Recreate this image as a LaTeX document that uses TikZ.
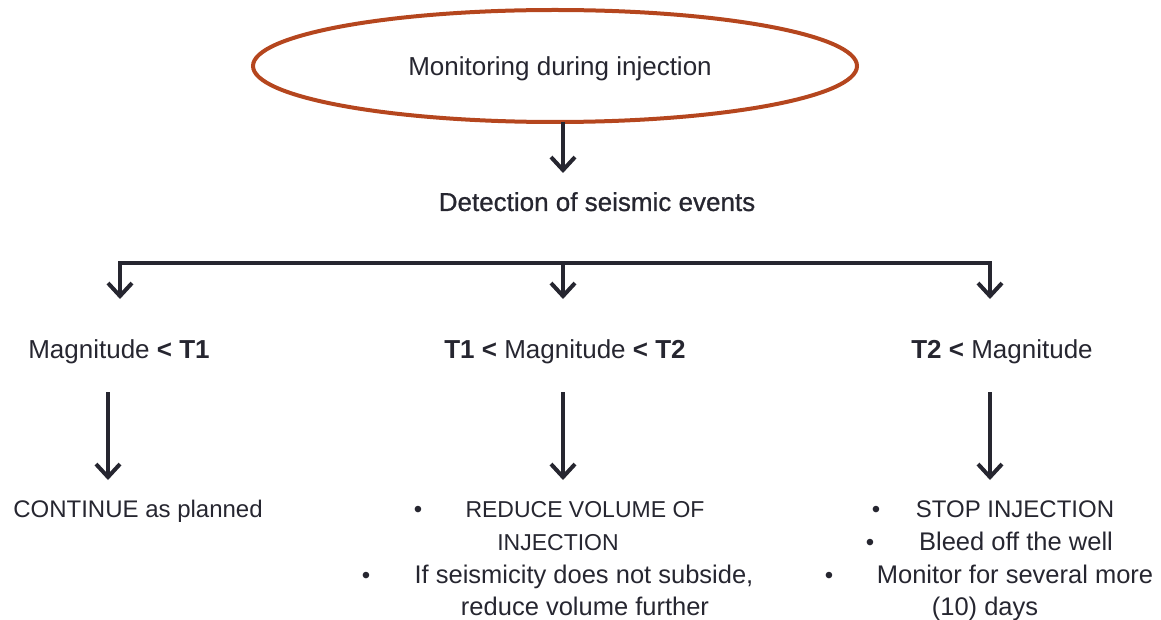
\documentclass[tikz,border=0pt]{standalone}
\usepackage{fontspec}
\setmainfont{Liberation Sans}
\newfontfamily\medfont{Liberation Sans}[FakeBold=0.8]
\usetikzlibrary{arrows.meta,shapes.geometric}
\definecolor{ink}{HTML}{262630}
\definecolor{rust}{HTML}{B5461E}
\tikzset{
  arr/.style={draw=ink,line width=4pt,-{Straight Barb[length=13pt,width=24pt,line width=4pt]}},
  bar/.style={draw=ink,line width=4pt},
  lab/.style={inner sep=0pt,anchor=base,text=ink,font=\fontsize{26}{30}\selectfont},
  txt/.style={inner sep=0pt,anchor=base,text=ink,font=\fontsize{24}{28}\selectfont},
  txtl/.style={txt,font=\fontsize{25.5}{28}\selectfont},
  bul/.style={inner sep=0pt,anchor=base,text=ink,font=\fontsize{24}{28}\selectfont},
}
\begin{document}
\begin{tikzpicture}[x=1pt,y=-1pt]
\useasboundingbox (0,0) rectangle (1161,620);
% top ellipse
\node[ellipse,draw=rust,line width=4pt,minimum width=604pt,minimum height=112pt,inner sep=0pt] (mon) at (555,66) {};
\node[lab] (montxt) at (560,76) {Monitoring during injection};
\node[lab,font=\medfont\fontsize{26}{30}\selectfont] (det) at (597,211) {Detection of seismic events};
\coordinate (a0) at (563,122);
\coordinate (a0e) at (563,173);
\draw[arr] (a0) -- (a0e);
% bar
\coordinate (bl) at (120,263);
\coordinate (bm) at (563,263);
\coordinate (br) at (990,263);
\coordinate (ble) at (120,299);
\coordinate (bme) at (563,299);
\coordinate (bre) at (990,299);
\draw[bar] ([xshift=-2pt]bl) -- ([xshift=2pt]br);
\draw[arr] (bl) -- (ble);
\draw[arr] (bm) -- (bme);
\draw[arr] (br) -- (bre);
% magnitude labels
\node[lab] (m1) at (119,358) {Magnitude \textbf{< T1}};
\node[lab] (m2) at (565,358) {\textbf{T1 <} Magnitude \textbf{< T2}};
\node[lab] (m3) at (1002,358) {\textbf{T2 <} Magnitude};
% second arrows
\coordinate (c1) at (108,392);
\coordinate (c1e) at (108,480);
\coordinate (c2) at (563,392);
\coordinate (c2e) at (563,480);
\coordinate (c3) at (990,392);
\coordinate (c3e) at (990,480);
\draw[arr] (c1) -- (c1e);
\draw[arr] (c2) -- (c2e);
\draw[arr] (c3) -- (c3e);
% left outcome
\node[txt] (o1) at (138,517) {CONTINUE as planned};
% middle outcome
\node[bul] (b21) at (418,517) {•};
\node[txt,font=\fontsize{23}{28}\selectfont] (o21) at (585,517) {REDUCE VOLUME OF};
\node[txt,font=\fontsize{23}{28}\selectfont] (o22) at (558,550) {INJECTION};
\node[bul] (b22) at (366,583) {•};
\node[txtl] (o23) at (584,583) {If seismicity does not subside,};
\node[txtl] (o24) at (585,615) {reduce volume further};
% right outcome
\node[bul] (b31) at (876,517) {•};
\node[txt] (o31) at (1015,517) {STOP INJECTION};
\node[bul] (b32) at (870,550) {•};
\node[txtl] (o32) at (1016,550) {Bleed off the well};
\node[bul] (b33) at (829,583) {•};
\node[txtl] (o33) at (1015,583) {Monitor for several more};
\node[txtl] (o34) at (985,615) {(10) days};
\end{tikzpicture}
\end{document}
